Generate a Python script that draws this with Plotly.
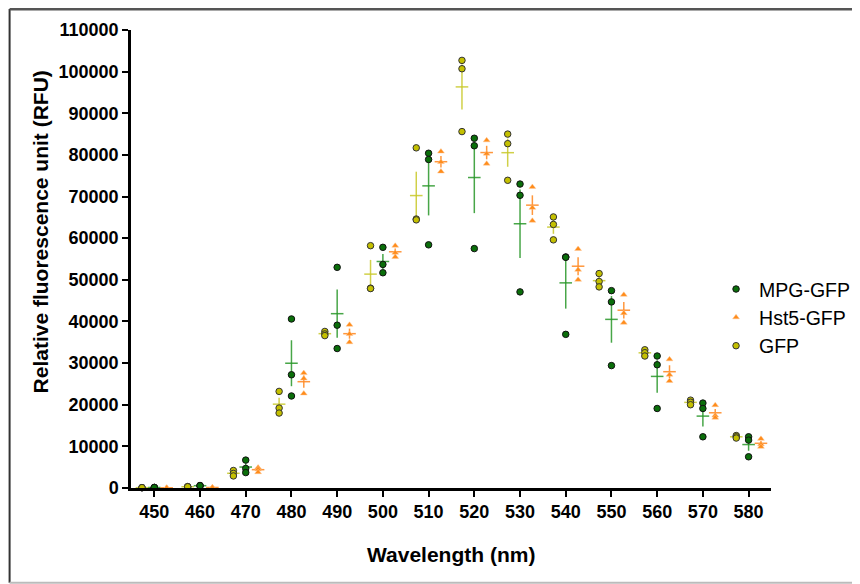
import numpy as np
import plotly.graph_objects as go

wavelengths = [450, 460, 470, 480, 490, 500, 510, 520, 530, 540, 550, 560, 570, 580]

mpg_reps = [
    [150, 100, 120], [600, 500, 550], [6700, 4700, 3700], [40600, 27200, 22100],
    [53000, 39100, 33500], [57800, 53700, 51700], [80400, 78900, 58400],
    [84000, 82200, 57500], [73000, 70300, 47100], [55500, 55400, 36900],
    [47400, 44700, 29400], [31700, 29600, 19100], [20400, 19100, 12300],
    [12300, 11500, 7500],
]
hst5_reps = [
    [50, 30, 60], [150, 100, 120], [4900, 4500, 3800], [27600, 26300, 22700],
    [39200, 37000, 35000], [58200, 56500, 55500], [80800, 78300, 76000],
    [83500, 80300, 77900], [72300, 67300, 64200], [57400, 52400, 50000],
    [46400, 42000, 39700], [30900, 27200, 25700], [19900, 17400, 16900],
    [11800, 10500, 9900],
]
gfp_reps = [
    [100, 50, 80], [350, 250, 300], [4200, 3500, 2900], [23200, 19200, 18000],
    [37600, 37000, 36600], [58200, 48000, 47900], [81700, 64600, 64400],
    [102700, 100700, 85600], [85000, 82700, 73900], [65100, 63300, 59600],
    [51500, 49600, 48300], [33200, 32500, 31700], [21100, 20600, 20000],
    [12600, 12300, 12000],
]

series_names = ["MPG-GFP", "Hst5-GFP", "GFP"]
y_ticks = list(range(0, 110001, 10000))

FONT = "Liberation Sans, Arial, sans-serif"

styles = {
    "MPG-GFP": dict(reps=mpg_reps, offset=0.0, symbol="circle", size=6.5,
                    fill="#0a6e0a", edge="#111111", edgew=1,
                    mean_col="rgba(40,150,40,0.85)"),
    "Hst5-GFP": dict(reps=hst5_reps, offset=2.7, symbol="triangle-up", size=6,
                     fill="#ff8c1a", edge="rgba(255,200,150,0.9)", edgew=0.5,
                     mean_col="rgba(255,140,40,0.9)"),
    "GFP": dict(reps=gfp_reps, offset=-2.7, symbol="circle", size=6.5,
                fill="#c4c000", edge="#333333", edgew=1,
                mean_col="rgba(200,200,40,0.85)"),
}

fig = go.Figure()

wl = np.array(wavelengths, dtype=float)

# mean + SEM first (behind points)
for name in series_names:
    s = styles[name]
    arr = np.array(s["reps"], dtype=float)
    mean = arr.mean(axis=1)
    sem = arr.std(axis=1, ddof=1) / np.sqrt(arr.shape[1])
    fig.add_trace(go.Scatter(
        x=wl + s["offset"], y=mean, mode="markers", showlegend=False,
        hoverinfo="skip", cliponaxis=False,
        marker=dict(symbol="line-ew", size=9, color=s["mean_col"],
                    line=dict(color=s["mean_col"], width=1.5)),
        error_y=dict(type="data", array=sem, visible=True, width=0,
                     thickness=1.5, color=s["mean_col"]),
    ))

for name in series_names:
    s = styles[name]
    arr = np.array(s["reps"], dtype=float)
    xs = np.repeat(wl + s["offset"], arr.shape[1])
    ys = arr.flatten()
    fig.add_trace(go.Scatter(
        x=xs, y=ys, mode="markers", name=name, cliponaxis=False,
        marker=dict(symbol=s["symbol"], size=s["size"], color=s["fill"],
                    line=dict(color=s["edge"], width=s["edgew"])),
    ))

# page body has an 8px default margin; target screen positions are shifted by it
OFF = 8
W, H = 860, 584
L = 130.5 - OFF
T = 30 - OFF
plot_right = 771 - OFF
plot_bottom = 488.3 - OFF
R = W - plot_right
B = H - plot_bottom
pw = plot_right - L
ph = plot_bottom - T

def px_x(p):
    return (p - OFF - L) / pw

def px_y(p):
    return (plot_bottom - (p - OFF)) / ph

fig.update_layout(
    width=W, height=H,
    margin=dict(l=L, r=R, t=T, b=B),
    paper_bgcolor="white", plot_bgcolor="white",
    font=dict(family=FONT, color="black"),
    showlegend=True,
    legend=dict(x=px_x(713), y=px_y(270), xanchor="left", yanchor="top",
                font=dict(family=FONT, size=19.5, color="black"),
                itemwidth=36,
                bgcolor="rgba(0,0,0,0)", tracegroupgap=0),
    xaxis=dict(range=[444.9, 584.9], tickmode="array", tickvals=wavelengths,
               ticktext=[str(w) for w in wavelengths],
               showgrid=False, zeroline=False, showline=True,
               linecolor="black", linewidth=2.5, ticks="outside",
               ticklen=6, tickwidth=2, tickcolor="black",
               tickfont=dict(family=FONT, size=18, color="black", weight="bold")),
    yaxis=dict(range=[0, 110000], tickmode="array", tickvals=y_ticks,
               ticktext=[str(v) for v in y_ticks],
               showgrid=False, zeroline=False, showline=True,
               linecolor="black", linewidth=2.5, ticks="outside",
               ticklen=6, tickwidth=2, tickcolor="black",
               tickfont=dict(family=FONT, size=18, color="black", weight="bold")),
    annotations=[
        dict(text="<b>Wavelength (nm)</b>", xref="paper", yref="paper",
             x=px_x(451), y=px_y(555), xanchor="center", yanchor="middle",
             showarrow=False, font=dict(family=FONT, size=21, color="black")),
        dict(text="<b>Relative fluorescence unit (RFU)</b>", xref="paper", yref="paper",
             x=px_x(40), y=px_y(232), xanchor="center", yanchor="middle",
             textangle=-90, showarrow=False,
             font=dict(family=FONT, size=21, color="black")),
    ],
    shapes=[
        dict(type="line", xref="paper", yref="paper", x0=px_x(9), x1=px_x(9),
             y0=px_y(9), y1=px_y(583), line=dict(color="#333333", width=2)),
        dict(type="line", xref="paper", yref="paper", x0=px_x(9), x1=px_x(880),
             y0=px_y(9.2), y1=px_y(9.2), line=dict(color="#555555", width=2.5)),
        dict(type="line", xref="paper", yref="paper", x0=px_x(9), x1=px_x(880),
             y0=px_y(583), y1=px_y(583), line=dict(color="#bbbbbb", width=2)),
    ],
)

fig.write_html("out.html")
